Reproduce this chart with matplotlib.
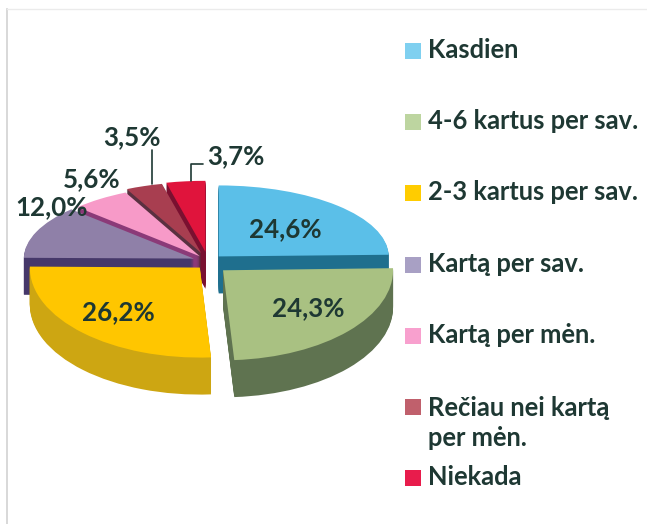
import matplotlib
matplotlib.use('Agg')
import matplotlib.pyplot as plt
from matplotlib.transforms import Affine2D
import numpy as np

categories = ['Kasdien', '4-6 kartus per sav.', '2-3 kartus per sav.', 'Kartą per sav.',
              'Kartą per mėn.', 'Rečiau nei kartą\nper mėn.', 'Niekada']
values = [24.6, 24.3, 26.2, 12.0, 5.6, 3.5, 3.7]
explode = [0.09, 0.12, 0.07, 0.09, 0.08, 0.12, 0.13]

top_colors = ['#5BBFE8', '#A9C182', '#FFC600', '#8F80A8', '#F79AC8', '#A83E50', '#E0143C']
side_colors = ['#1F6F8E', '#5F7350', '#CDA612', '#46386A', '#8B3A78', '#5A3040', '#7A1030']
legend_colors = ['#7FD0F0', '#BDD5A0', '#FFCC00', '#A8A0C4', '#F8A0CE', '#C0606C', '#E81C4C']
text_color = '#1E3833'

# slices are stacked back to front, so the near ones cover the far ones
draw_order = [6, 5, 4, 3, 0, 2, 1]
label_pos = [(285, 229), (308, 308), (118, 312), (52, 207), (92, 179), (132, 137), (236, 156)]

cx = 208
rx = 170
cy_top, ry_top = 261, 71
cy_low, ry_low = 263, 90
depth = 37

fig = plt.figure(figsize=(6.47, 5.24), dpi=100)
ax = fig.add_axes([0, 0, 1, 1])
font = {'family': 'Lato', 'weight': 'bold', 'color': text_color}


def draw_layer(colors, dy, z):
    wedges, _ = ax.pie(values, explode=explode, colors=colors, startangle=90,
                       counterclock=False, wedgeprops={'linewidth': 0})
    for i, w in enumerate(wedges):
        mid = np.radians((w.theta1 + w.theta2) / 2)
        if np.sin(mid) >= 0:
            cy, ry = cy_top, ry_top
        else:
            cy, ry = cy_low, ry_low
        w.set_transform(Affine2D().scale(rx, -ry).translate(cx, cy + dy) + ax.transData)
        w.set_zorder(draw_order.index(i) * 100 + z)


for d in range(depth, 0, -1):
    draw_layer(side_colors, d, depth - d)
draw_layer(top_colors, 0, depth + 1)

ax.set_aspect('auto')
ax.set_xlim(0, 647)
ax.set_ylim(524, 0)
ax.set_axis_off()

# faint frame of the scanned page
ax.plot([7, 7], [9, 524], color='#D2D2D2', lw=1.2, zorder=1)
ax.plot([7, 647], [9, 9], color='#EBEBEB', lw=1, zorder=1)

for v, (x, y) in zip(values, label_pos):
    ax.text(x, y, f'{v:.1f}'.replace('.', ',') + '%', fontsize=18.6, ha='center', va='center',
            zorder=2000, **font)

# leader lines of the two small slices
ax.annotate('', xy=(152, 184), xytext=(152, 150), zorder=1900,
            arrowprops=dict(arrowstyle='-', color=text_color, lw=1.2, shrinkA=0, shrinkB=0))
ax.annotate('', xy=(191, 181), xytext=(203, 164), zorder=1900,
            arrowprops=dict(arrowstyle='-', color=text_color, lw=1.2, shrinkA=0, shrinkB=0,
                            connectionstyle='angle,angleA=0,angleB=90,rad=0'))

# legend
for i, (name, c) in enumerate(zip(categories, legend_colors)):
    y = 50 + 71.2 * i
    ax.scatter([413], [y + 1], marker='s', s=117, color=c, linewidths=0, zorder=10)
    ax.text(428, y + 17.5 * name.count('\n'), name, fontsize=18.4, ha='left', va='center',
            linespacing=1.3, **font)

fig.savefig('out.png', dpi=100)
